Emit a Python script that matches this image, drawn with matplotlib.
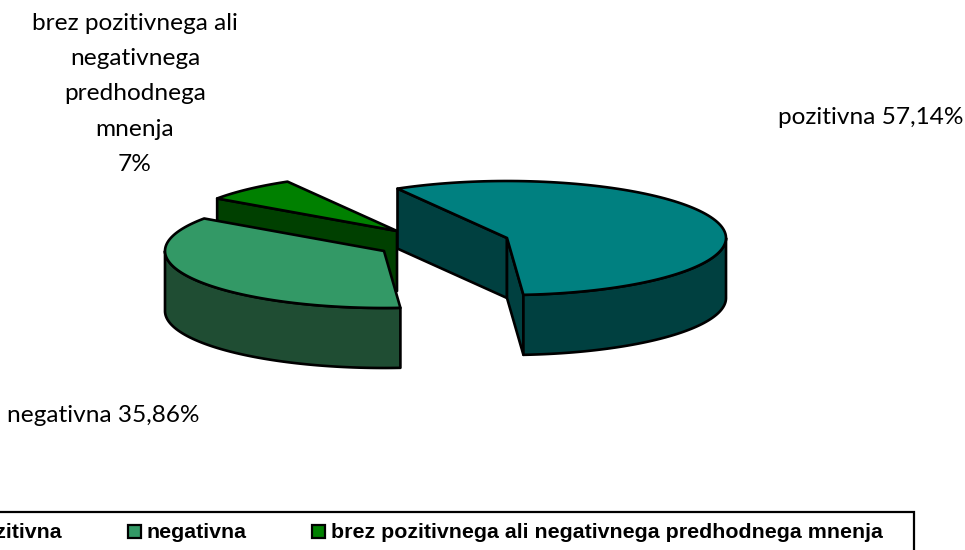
import numpy as np
import matplotlib
matplotlib.use('Agg')
import matplotlib.pyplot as plt
from matplotlib.patches import Polygon, Rectangle

# 数据
names = ['pozitivna', 'negativna', 'brez pozitivnega ali negativnega predhodnega mnenja']
values = [57.14, 35.86, 7.0]
start_angle = 120
label_texts = ['pozitivna 57,14%', 'negativna 35,86%',
               'brez pozitivnega ali\nnegativnega\npredhodnega\nmnenja\n7%']

top_colors = ['#008080', '#339966', '#008000']
side_colors = ['#004040', '#1F4D33', '#004000']
apexes = [(507, 238), (384, 251), (397, 231)]
label_pos = [(871, 117), (103, 416), (135, 94)]
legend_box = [(-48, -30), (128, 147), (312, 331)]

RX, RY, DEPTH = 219, 57, 60
LW = 1.9


def point(apex, deg):
    t = np.radians(deg)
    return apex[0] + RX * np.cos(t), apex[1] - RY * np.sin(t)


def arc(apex, a, b):
    t = np.radians(np.linspace(a, b, 120))
    return np.column_stack([apex[0] + RX * np.cos(t), apex[1] - RY * np.sin(t)])


def face(ax, pts, color):
    ax.add_patch(Polygon(pts, closed=True, facecolor=color, edgecolor='black',
                         linewidth=LW, joinstyle='round'))


def draw_slice(ax, apex, a0, a1, top, side):
    # a0 > a1, 顺时针
    ax_, ay = apex
    down = np.array([0, DEPTH])
    p0 = np.array(point(apex, a0))
    p1 = np.array(point(apex, a1))
    c = np.array([ax_, ay])

    # 两个切面, 朝向观察者的才画
    if np.cos(np.radians(a0)) < 0 and np.sin(np.radians(a0)) > 0:
        face(ax, [c, p0, p0 + down, c + down], side)
    if np.sin(np.radians(a1)) < 0 and np.cos(np.radians(a1)) > 0:
        face(ax, [c, p1, p1 + down, c + down], side)

    # 外侧弧面
    lo, hi = max(a1, -180), min(a0, 0)
    if a1 < 0 and lo < hi:
        rim = arc(apex, hi, lo)
        face(ax, np.vstack([rim, rim[::-1] + down]), side)

    # 顶面
    face(ax, np.vstack([c, arc(apex, a0, a1)]), top)


fig = plt.figure(figsize=(9.65, 5.5), dpi=100)
ax = fig.add_axes([0, 0, 1, 1])
ax.set_xlim(0, 965)
ax.set_ylim(550, 0)
ax.axis('off')

sweeps = np.array(values) / sum(values) * 360
ends = start_angle - np.cumsum(sweeps)
starts = np.r_[start_angle, ends[:-1]]

for i in [2, 1, 0]:
    draw_slice(ax, apexes[i], starts[i], ends[i], top_colors[i], side_colors[i])

for text, (x, y) in zip(label_texts, label_pos):
    ax.text(x, y, text, family='Lato', fontsize=17.6, ha='center', va='center',
            linespacing=1.83, color='black')

# 图例
ax.add_patch(Rectangle((-30, 512), 944, 70, facecolor='white', edgecolor='black', linewidth=1.6))
for name, color, (bx, tx) in zip(names, top_colors, legend_box):
    ax.add_patch(Rectangle((bx, 525), 13, 13, facecolor=color, edgecolor='black', linewidth=1.6))
    ax.text(tx, 538.5, name, family='Liberation Sans', fontweight='bold', fontsize=15.4,
            ha='left', va='baseline')

fig.savefig('out.png', dpi=100)
